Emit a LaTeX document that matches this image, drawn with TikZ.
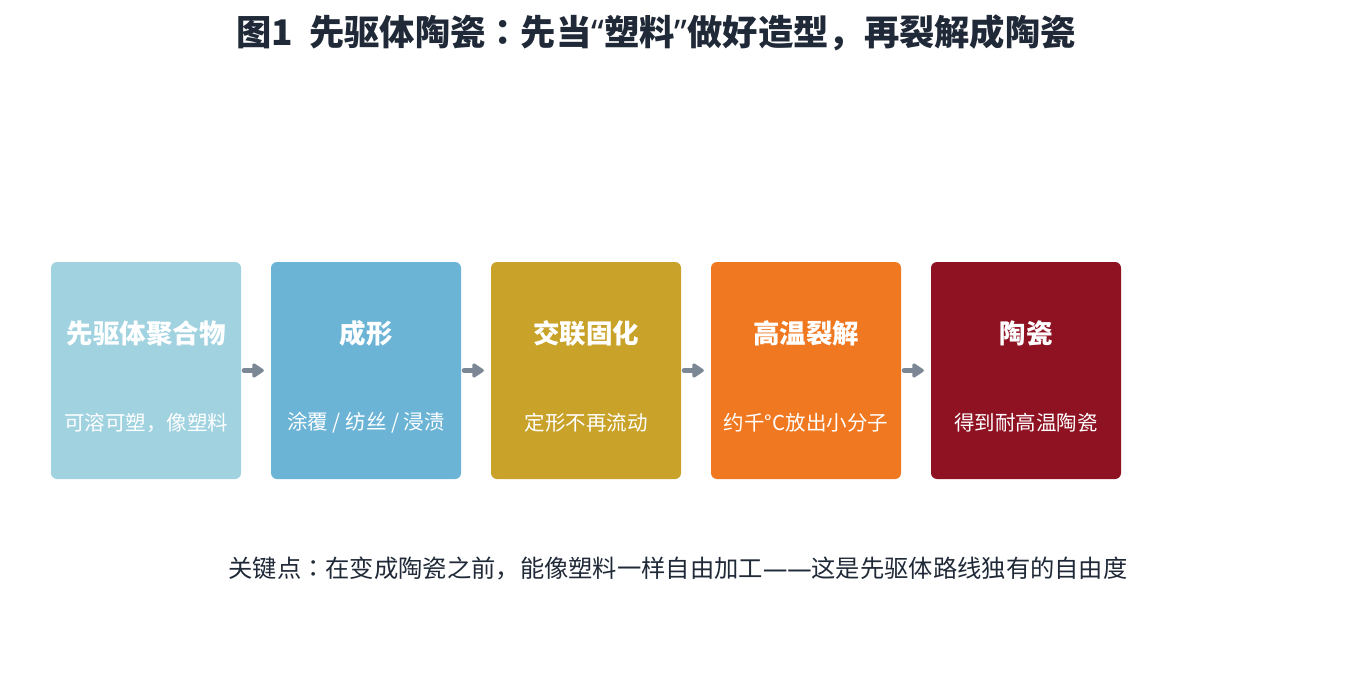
\documentclass[tikz,border=0pt]{standalone}
\usepackage{fontspec}
\setmainfont{Noto Sans CJK SC}
\newfontfamily\jpfont{Noto Sans CJK JP}
\newfontfamily\latinfont{Noto Sans}
\usetikzlibrary{arrows.meta}
\definecolor{cA}{HTML}{A0D2E0}
\definecolor{cB}{HTML}{6CB4D6}
\definecolor{cC}{HTML}{C9A22A}
\definecolor{cD}{HTML}{F07820}
\definecolor{cE}{HTML}{8E1222}
\definecolor{ink}{HTML}{1F2937}
\definecolor{arr}{HTML}{7B8794}
\newcommand{\ccolon}{{\jpfont ：}}
\tikzset{
  stagebox/.style={draw=none, rounded corners=6pt, minimum width=190pt, minimum height=217pt, inner sep=0pt},
  stagetitle/.style={text=white, font=\fontsize{26.5}{30}\selectfont\bfseries},
  stagesub/.style={text=white, font=\fontsize{20.5}{24}\selectfont},
  flow/.style={arr, line width=5pt, line cap=round, -{Triangle[length=13pt,width=16pt,round]}, shorten <=3pt, shorten >=7pt}
}
\begin{document}
\begin{tikzpicture}[x=1pt,y=-1pt]
\useasboundingbox[fill=white] (0,0) rectangle (1356,679);
\node[text=ink, font=\fontsize{35.3}{40}\selectfont\bfseries] (title) at (656,33) {图1\ \ 先驱体陶瓷\ccolon 先当{\latinfont “}塑料{\latinfont ”}做好造型，再裂解成陶瓷};
\foreach \i/\x/\c/\t/\s in {1/146/cA/先驱体聚合物/可溶可塑，像塑料, 2/366/cB/成形/{涂覆 / 纺丝 / 浸渍}, 3/586/cC/交联固化/定形不再流动, 4/806/cD/高温裂解/约千°C放出小分子, 5/1026/cE/陶瓷/得到耐高温陶瓷}{
  \node[stagebox, fill=\c] (b\i) at (\x,370.5) {};
  \node[stagetitle] (t\i) at (\x,333) {\t};
  \node[stagesub] (s\i) at (\x,423) {\s};
}
\foreach \a/\b in {1/2,2/3,3/4,4/5}{
  \draw[flow] (b\a.east) -- (b\b.west);
}
\node[text=ink, font=\fontsize{24.3}{28}\selectfont] (note) at (678,568) {关键点\ccolon 在变成陶瓷之前，能像塑料一样自由加工{\latinfont ——}这是先驱体路线独有的自由度};
\end{tikzpicture}
\end{document}
